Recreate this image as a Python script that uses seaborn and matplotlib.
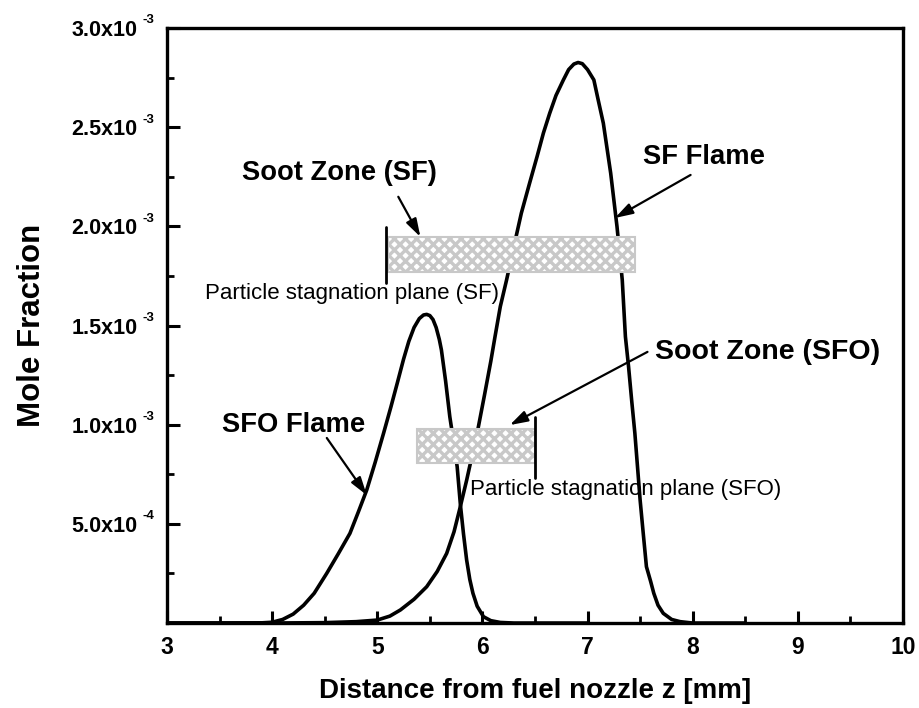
import numpy as np
import pandas as pd
import matplotlib
matplotlib.use("Agg")
import matplotlib.pyplot as plt
from matplotlib.patches import Rectangle
from matplotlib.ticker import FixedLocator, MultipleLocator
import seaborn as sns

# Mole fraction profiles along the burner axis (z in mm, values in units of 1e-3)
sfo_z = [3.0, 3.5, 3.9, 4.0, 4.1, 4.2, 4.3, 4.4, 4.52, 4.63, 4.74, 4.82, 4.90,
         4.98, 5.06, 5.13, 5.19, 5.25, 5.30, 5.35, 5.40, 5.44, 5.47, 5.50,
         5.53, 5.56, 5.59, 5.61, 5.65, 5.69, 5.73, 5.76, 5.79, 5.82, 5.85,
         5.88, 5.91, 5.95, 6.01, 6.08, 6.17, 6.3, 7.0]
sfo_x = [0.0, 0.0, 0.001, 0.004, 0.018, 0.045, 0.09, 0.15, 0.251, 0.35, 0.452,
         0.56, 0.671, 0.81, 0.957, 1.09, 1.209, 1.33, 1.42, 1.49, 1.535, 1.553,
         1.556, 1.55, 1.53, 1.49, 1.43, 1.377, 1.22, 1.040, 0.90, 0.788, 0.60,
         0.45, 0.318, 0.22, 0.150, 0.085, 0.032, 0.012, 0.003, 0.0, 0.0]

sf_z = [3.0, 4.0, 4.5, 4.8, 5.0, 5.12, 5.22, 5.35, 5.47, 5.57, 5.66, 5.73,
        5.79, 5.85, 5.90, 5.95, 6.02, 6.08, 6.12, 6.17, 6.23, 6.30, 6.37,
        6.45, 6.52, 6.58, 6.64, 6.70, 6.77, 6.82, 6.87, 6.91, 6.95, 7.00,
        7.06, 7.10, 7.15, 7.22, 7.28, 7.33, 7.36, 7.39, 7.42, 7.45, 7.50,
        7.53, 7.56, 7.60, 7.63, 7.67, 7.72, 7.80, 7.88, 8.0, 8.5]
sf_x = [0.0, 0.0, 0.002, 0.007, 0.015, 0.035, 0.066, 0.12, 0.183, 0.26, 0.351,
        0.46, 0.587, 0.72, 0.84, 0.957, 1.15, 1.32, 1.444, 1.595, 1.730, 1.90,
        2.066, 2.22, 2.352, 2.47, 2.570, 2.66, 2.738, 2.79, 2.818, 2.826, 2.82,
        2.79, 2.738, 2.64, 2.520, 2.268, 1.999, 1.730, 1.444, 1.293, 1.12,
        0.957, 0.620, 0.45, 0.284, 0.21, 0.150, 0.09, 0.049, 0.018, 0.007,
        0.0, 0.0]

# Soot zones: (z_start, z_end, x_low, x_high) in mm and 1e-3 units
soot_sf = (5.10, 7.45, 1.770, 1.947)
soot_sfo = (5.38, 6.50, 0.807, 0.978)
# Particle stagnation planes: (z, x_low, x_high)
stag_sf = (5.08, 1.715, 1.997)
stag_sfo = (6.50, 0.731, 1.039)

x_ticks = [3, 4, 5, 6, 7, 8, 9, 10]
y_ticks = [0.5e-3, 1.0e-3, 1.5e-3, 2.0e-3, 2.5e-3, 3.0e-3]
y_tick_mantissas = ["5.0x10", "1.0x10", "1.5x10", "2.0x10", "2.5x10", "3.0x10"]
y_tick_exponents = ["-4", "-3", "-3", "-3", "-3", "-3"]

sns.set_theme(style="ticks")
plt.rcParams["font.family"] = ["Liberation Sans", "DejaVu Sans"]
plt.rcParams["hatch.linewidth"] = 2.4
for key in ("text.color", "axes.labelcolor", "xtick.color", "ytick.color",
            "axes.edgecolor"):
    plt.rcParams[key] = "black"

df = pd.concat([
    pd.DataFrame({"z": sfo_z, "x": np.array(sfo_x) * 1e-3, "flame": "SFO"}),
    pd.DataFrame({"z": sf_z, "x": np.array(sf_x) * 1e-3, "flame": "SF"}),
], ignore_index=True)

fig = plt.figure(figsize=(9.2, 7.08), dpi=100)
ax = fig.add_axes([0.1815, 0.12, 0.8, 0.8405])

sns.lineplot(data=df, x="z", y="x", hue="flame", palette=["black", "black"],
             estimator=None, sort=False, linewidth=2.6, legend=False, ax=ax)
for line in ax.get_lines():
    line.set_solid_joinstyle("round")

ax.set_xlim(3, 10)
ax.set_ylim(0, 3.0e-3)

# Soot zones (cross-hatched bands) and stagnation plane markers
for (z0, z1, lo, hi) in (soot_sf, soot_sfo):
    ax.add_patch(Rectangle((z0, lo * 1e-3), z1 - z0, (hi - lo) * 1e-3,
                           facecolor="white", edgecolor="#c8c8c8", hatch="xxx",
                           linewidth=1.5, zorder=3))
for (z, lo, hi) in (stag_sf, stag_sfo):
    ax.plot([z, z], [lo * 1e-3, hi * 1e-3], color="black", lw=2.0, zorder=4)

# Ticks
ax.xaxis.set_major_locator(FixedLocator(x_ticks))
ax.xaxis.set_minor_locator(MultipleLocator(0.5))
ax.yaxis.set_major_locator(FixedLocator(y_ticks))
ax.yaxis.set_minor_locator(MultipleLocator(0.25e-3))
ax.set_yticklabels(y_tick_mantissas)
ax.set_xticklabels([str(t) for t in x_ticks])
ax.tick_params(which="major", direction="in", length=9, width=2.2)
ax.tick_params(axis="x", which="major", pad=9, labelsize=16.5)
ax.tick_params(axis="y", which="major", pad=21, labelsize=15.5)
ax.tick_params(which="minor", direction="in", length=5, width=2.0)
for lab in ax.get_xticklabels() + ax.get_yticklabels():
    lab.set_fontweight("bold")

# Small raised exponents after each y tick label
for y, e in zip(y_ticks, y_tick_exponents):
    ax.annotate(e, xy=(0, y), xycoords=("axes fraction", "data"),
                xytext=(-17.5, 5.5), textcoords="offset points",
                ha="left", va="center", fontsize=9.5, fontweight="bold",
                annotation_clip=False)

for side in ("left", "right", "top", "bottom"):
    ax.spines[side].set_visible(True)
    ax.spines[side].set_linewidth(2.4)
    ax.spines[side].set_color("black")

ax.set_xlabel("Distance from fuel nozzle z [mm]", fontsize=20,
              fontweight="bold")
ax.set_ylabel("Mole Fraction", fontsize=22.5, fontweight="bold")
ax.xaxis.label.set_va("center")
ax.yaxis.label.set_va("center")
ax.xaxis.set_label_coords(0.5, -0.115)
ax.yaxis.set_label_coords(-0.184, 0.50)

# Annotations
bold = dict(fontsize=19.7, fontweight="bold", va="center", ha="left")
plain = dict(fontsize=16, va="center", ha="left")
arrow = dict(arrowstyle="-|>,head_length=0.9,head_width=0.28",
             color="black", lw=1.6, shrinkA=0, shrinkB=0)

ax.text(3.714, 2.269e-3, "Soot Zone (SF)", **bold)
ax.annotate("", xy=(5.41, 1.947e-3), xytext=(5.20, 2.149e-3), arrowprops=arrow)
ax.text(3.36, 1.659e-3, "Particle stagnation plane (SF)", **plain)

ax.text(7.53, 2.35e-3, "SF Flame", **bold)
ax.annotate("", xy=(7.26, 2.042e-3), xytext=(7.98, 2.259e-3), arrowprops=arrow)

ax.text(7.64, 1.367e-3, "Soot Zone (SFO)", **dict(bold, fontsize=20.5))
ax.annotate("", xy=(6.26, 0.998e-3), xytext=(7.57, 1.367e-3), arrowprops=arrow)
ax.text(5.88, 0.671e-3, "Particle stagnation plane (SFO)", **plain)

ax.text(3.52, 1.0e-3, "SFO Flame", **bold)
ax.annotate("", xy=(4.90, 0.645e-3), xytext=(4.52, 0.933e-3), arrowprops=arrow)

fig.savefig("out.png", dpi=100)
